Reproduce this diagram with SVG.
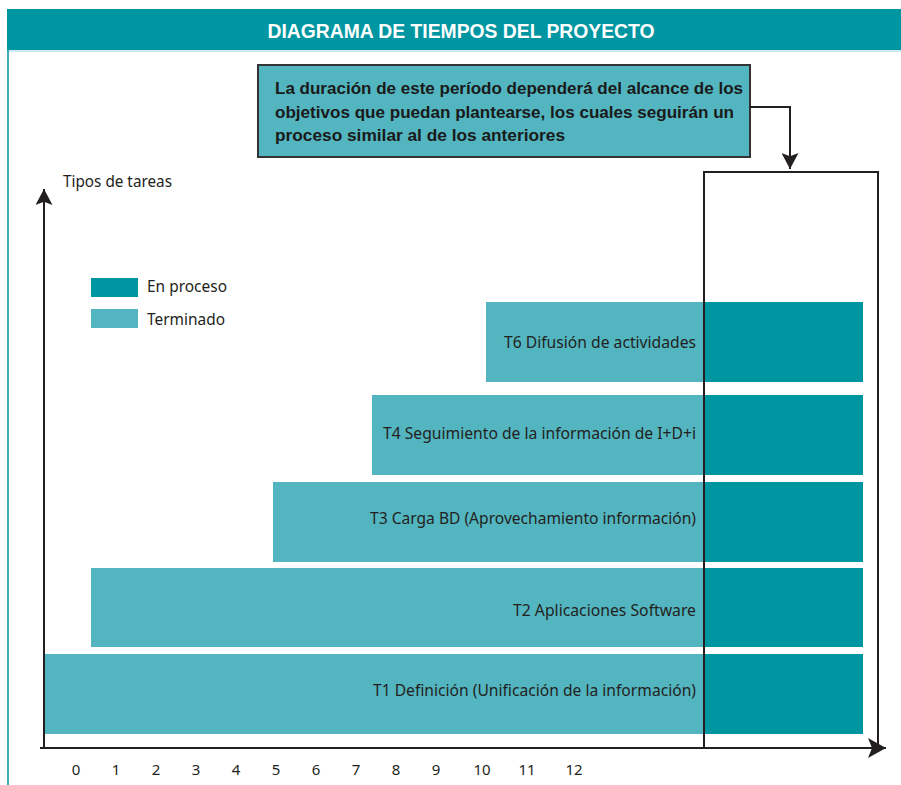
<svg xmlns="http://www.w3.org/2000/svg" width="901" height="785" viewBox="0 0 901 785">
  <style>
    .lt { fill: #52b5c0; }
    .dk { fill: #0096a1; }
    .lbl { font-family: "Noto Sans", "Liberation Sans", sans-serif; font-size: 16px; fill: #231f20; }
    .num { font-family: "Noto Sans", "Liberation Sans", sans-serif; font-size: 15px; fill: #231f20; }
    .call { font-family: "Liberation Sans", "DejaVu Sans", sans-serif; font-size: 16px; font-weight: bold; fill: #1a1a1a; }
    .ln { stroke: #231f20; stroke-width: 2; fill: none; }
  </style>
  <defs>
    <marker id="arr" viewBox="0 0 20 20" refX="18" refY="10" markerWidth="20" markerHeight="20" markerUnits="userSpaceOnUse" orient="auto">
      <path d="M0,0 L18,10 L0,20 L4,10 Z" fill="#231f20"/>
    </marker>
    <marker id="arrS" viewBox="0 0 16 16" refX="15" refY="8" markerWidth="17" markerHeight="17" markerUnits="userSpaceOnUse" orient="auto">
      <path d="M0,0 L15,8 L0,16 L3,8 Z" fill="#231f20"/>
    </marker>
  </defs>
  <rect width="901" height="785" fill="#ffffff"/>

  <g id="header">
    <rect x="7" y="9" width="894" height="41" fill="#0096a1"/>
    <line x1="7" y1="51" x2="901" y2="51" stroke="#9fd6dc" stroke-width="1"/>
    <line x1="8" y1="50" x2="8" y2="785" stroke="#0096a1" stroke-width="1.5"/>
    <text x="461" y="38" text-anchor="middle" font-family="Liberation Sans, sans-serif" font-size="20" font-weight="bold" fill="#ffffff" textLength="387" lengthAdjust="spacingAndGlyphs">DIAGRAMA DE TIEMPOS DEL PROYECTO</text>
  </g>

  <g id="callout">
    <rect x="258" y="65" width="492" height="92" fill="#52b5c0" stroke="#333333" stroke-width="2"/>
    <text class="call" x="275" y="94" textLength="468" lengthAdjust="spacingAndGlyphs">La duración de este período dependerá del alcance de los</text>
    <text class="call" x="275" y="118" textLength="459" lengthAdjust="spacingAndGlyphs">objetivos que puedan plantearse, los cuales seguirán un</text>
    <text class="call" x="275" y="141" textLength="290" lengthAdjust="spacingAndGlyphs">proceso similar al de los anteriores</text>
  </g>

  <g id="axis-label">
    <text class="lbl" x="63" y="187" textLength="109" lengthAdjust="spacingAndGlyphs">Tipos de tareas</text>
  </g>

  <g id="legend">
    <rect class="dk" x="91" y="278" width="47" height="19"/>
    <text class="lbl" x="147" y="292" textLength="80" lengthAdjust="spacingAndGlyphs">En proceso</text>
    <rect class="lt" x="91" y="309" width="47" height="19"/>
    <text class="lbl" x="147" y="325" textLength="78" lengthAdjust="spacingAndGlyphs">Terminado</text>
  </g>

  <g id="t6">
    <rect class="lt" x="486" y="302" width="218" height="80"/>
    <rect class="dk" x="704" y="302" width="159" height="80"/>
    <text class="lbl" x="696" y="348" text-anchor="end" textLength="192" lengthAdjust="spacingAndGlyphs">T6 Difusión de actividades</text>
  </g>
  <g id="t4">
    <rect class="lt" x="372" y="395" width="332" height="80"/>
    <rect class="dk" x="704" y="395" width="159" height="80"/>
    <text class="lbl" x="696" y="439" text-anchor="end" textLength="313" lengthAdjust="spacingAndGlyphs">T4 Seguimiento de la información de I+D+i</text>
  </g>
  <g id="t3">
    <rect class="lt" x="273" y="482" width="431" height="80"/>
    <rect class="dk" x="704" y="482" width="159" height="80"/>
    <text class="lbl" x="696" y="524" text-anchor="end" textLength="326" lengthAdjust="spacingAndGlyphs">T3 Carga BD (Aprovechamiento información)</text>
  </g>
  <g id="t2">
    <rect class="lt" x="91" y="568" width="613" height="79"/>
    <rect class="dk" x="704" y="568" width="159" height="79"/>
    <text class="lbl" x="696" y="616" text-anchor="end" textLength="183" lengthAdjust="spacingAndGlyphs">T2 Aplicaciones Software</text>
  </g>
  <g id="t1">
    <rect class="lt" x="45" y="654" width="659" height="80"/>
    <rect class="dk" x="704" y="654" width="159" height="80"/>
    <text class="lbl" x="696" y="696" text-anchor="end" textLength="323" lengthAdjust="spacingAndGlyphs">T1 Definición (Unificación de la información)</text>
  </g>

  <g id="future-period">
    <path class="ln" d="M704,748 L704,172 L878,172 L878,748"/>
  </g>

  <g id="connectors">
    <line class="ln" x1="44" y1="749" x2="44" y2="189" marker-end="url(#arrS)"/>
    <line class="ln" x1="40" y1="748" x2="886" y2="748" marker-end="url(#arr)"/>
    <path class="ln" d="M750,107 L790,107 L790,169" marker-end="url(#arrS)"/>
  </g>

  <g id="ticks">
    <text class="num" x="76" y="775" text-anchor="middle">0</text>
    <text class="num" x="116" y="775" text-anchor="middle">1</text>
    <text class="num" x="156" y="775" text-anchor="middle">2</text>
    <text class="num" x="196" y="775" text-anchor="middle">3</text>
    <text class="num" x="236" y="775" text-anchor="middle">4</text>
    <text class="num" x="276" y="775" text-anchor="middle">5</text>
    <text class="num" x="316" y="775" text-anchor="middle">6</text>
    <text class="num" x="356" y="775" text-anchor="middle">7</text>
    <text class="num" x="396" y="775" text-anchor="middle">8</text>
    <text class="num" x="436" y="775" text-anchor="middle">9</text>
    <text class="num" x="482" y="775" text-anchor="middle">10</text>
    <text class="num" x="527" y="775" text-anchor="middle">11</text>
    <text class="num" x="574" y="775" text-anchor="middle">12</text>
  </g>
</svg>
